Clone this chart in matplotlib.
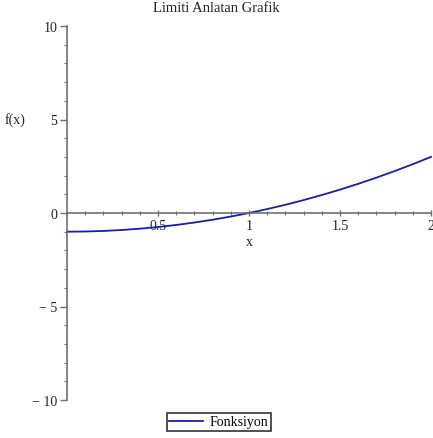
import matplotlib
matplotlib.use("Agg")
from matplotlib import pyplot as plt
from matplotlib.ticker import MultipleLocator

# values
x = [0.0, 0.1, 0.2, 0.3, 0.4, 0.5, 0.6, 0.7, 0.8, 0.9, 1.0,
     1.1, 1.2, 1.3, 1.4, 1.5, 1.6, 1.7, 1.8, 1.9, 2.0]
y = [-1.0, -0.99, -0.96, -0.91, -0.84, -0.75, -0.64, -0.51, -0.36, -0.19, 0.0,
     0.21, 0.44, 0.69, 0.96, 1.25, 1.56, 1.89, 2.24, 2.61, 3.0]
xticks = [0.5, 1, 1.5, 2]
xticklabels = ["0.5", "1", "1.5", "2"]
yticks = [-10, -5, 0, 5, 10]
yticklabels = ["\u2212 10", "\u2212 5", "0", "5", "10"]

plt.rcParams["font.family"] = ["Liberation Serif", "DejaVu Serif"]
axis_col = "#707070"
text_col = "#222222"

fig = plt.figure(figsize=(4.33, 4.39), dpi=100)
ax = fig.add_axes([67/433, 1-401/439, (431-67)/433, (401-27)/439])

ax.plot(x, y, color="#1c1ca8", linewidth=1.3, label="Fonksiyon", clip_on=False)

ax.set_xlim(0, 2)
ax.set_ylim(-10, 10)

ax.spines["left"].set_position(("data", 0))
ax.spines["bottom"].set_position(("data", 0))
ax.spines["right"].set_visible(False)
ax.spines["top"].set_visible(False)
for s in ["left", "bottom"]:
    ax.spines[s].set_color(axis_col)
    ax.spines[s].set_linewidth(1.2)

ax.set_xticks(xticks)
ax.set_xticklabels(xticklabels)
ax.set_yticks(yticks)
ax.set_yticklabels(yticklabels)
ax.xaxis.set_minor_locator(MultipleLocator(0.1))
ax.yaxis.set_minor_locator(MultipleLocator(1))

ax.tick_params(axis="x", which="both", direction="inout", colors=axis_col,
               labelcolor=text_col, labelsize=10, pad=2)
ax.tick_params(axis="x", which="major", length=5, width=1)
ax.tick_params(axis="x", which="minor", length=3, width=0.8)
ax.tick_params(axis="y", which="both", direction="out", colors=axis_col,
               labelcolor=text_col, labelsize=10, pad=2)
ax.tick_params(axis="y", which="major", length=5, width=1)
ax.tick_params(axis="y", which="minor", length=2, width=0.8)

ax.text(1, -1.55, "x", ha="center", va="center", fontsize=10, color=text_col)
fig.text(15/433, 1-120/439, "f(x)", ha="center", va="center", fontsize=10, color=text_col)

fig.suptitle("Limiti Anlatan Grafik", y=1-9/439, va="center", fontsize=10.5, color=text_col)

leg = fig.legend(loc="center", bbox_to_anchor=(219/433, 1-423/439), fontsize=10,
                 fancybox=False, framealpha=1, edgecolor="#333333",
                 handlelength=2.4, borderpad=0.2, handletextpad=0.5)
leg.get_frame().set_linewidth(1.2)

fig.savefig("out.png", dpi=100)
